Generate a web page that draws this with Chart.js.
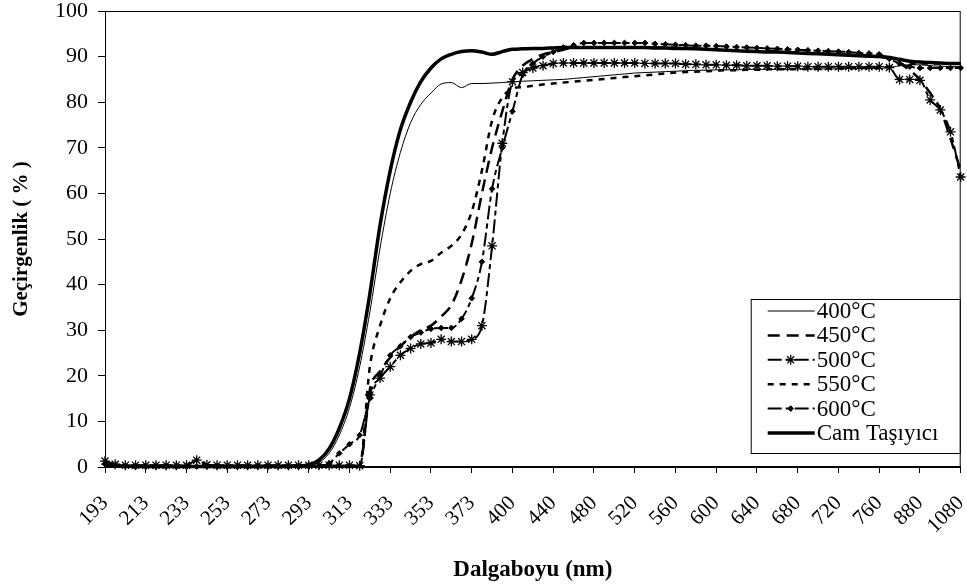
<!DOCTYPE html>
<html>
<head>
<meta charset="utf-8">
<script src="https://cdn.jsdelivr.net/npm/chart.js@4.4.1/dist/chart.umd.min.js"></script>
<style>
  html, body { margin: 0; padding: 0; background: #ffffff; }
</style>
</head>
<body>
<canvas id="chart" width="967" height="586"></canvas>
<script>
// ---- data ----
// wavelength categories (nm); only every 4th one gets a tick label
const wavelengths = [
  193, 198, 203, 208, 213, 218, 223, 228, 233, 238, 243, 248, 253, 258, 263, 268, 273, 278, 283, 288,
  293, 298, 303, 308, 313, 318, 323, 328, 333, 338, 343, 348, 353, 358, 363, 368, 373, 380, 387, 393,
  400, 410, 420, 430, 440, 450, 460, 470, 480, 490, 500, 510, 520, 530, 540, 550, 560, 570, 580, 590,
  600, 610, 620, 630, 640, 650, 660, 670, 680, 690, 700, 710, 720, 730, 740, 750, 760, 790, 820, 850,
  880, 930, 980, 1030, 1080
];

// transmittance (%) per film
const t400 = [
  0.5, 0.3, 0.2, 0.1, 0.1, 0.1, 0.1, 0.1, 0.1, 0.1, 0.1, 0.1, 0.1, 0.1, 0.1, 0.1, 0.1, 0.1, 0.1, 0.1,
  0.3, 1.0, 3.0, 7.0, 13.0, 22.0, 34.0, 48.0, 60.0, 69.0, 75.5, 79.5, 82.0, 84.0, 84.3, 83.2, 84.1, 84.1, 84.2, 84.3,
  84.5, 84.6, 84.7, 84.8, 84.9, 85.0, 85.2, 85.4, 85.6, 85.8, 86.0, 86.2, 86.4, 86.5, 86.6, 86.7, 86.8, 86.9, 87.0, 87.0,
  87.1, 87.1, 87.1, 87.2, 87.2, 87.2, 87.2, 87.2, 87.3, 87.3, 87.3, 87.3, 87.3, 87.4, 87.4, 87.4, 87.4, 87.6, 88.0, 88.2,
  88.2, 88.0, 87.9, 87.8, 87.8
];
const t450 = [
  0.3, 0.2, 0.1, 0.1, 0.1, 0.1, 0.1, 0.1, 0.1, 0.1, 0.1, 0.1, 0.1, 0.1, 0.1, 0.1, 0.1, 0.1, 0.1, 0.1,
  0.1, 0.1, 0.1, 0.1, 0.2, 0.3, 17.0, 21.0, 24.0, 26.5, 28.5, 30.0, 31.0, 33.0, 35.5, 41.0, 49.0, 60.0, 70.0, 78.0,
  85.0, 88.0, 89.5, 90.5, 91.0, 91.5, 92.0, 92.0, 92.0, 92.0, 92.0, 92.0, 92.0, 92.0, 92.0, 92.0, 92.0, 91.8, 91.7, 91.6,
  91.5, 91.4, 91.3, 91.3, 91.2, 91.2, 91.1, 91.0, 90.9, 90.8, 90.7, 90.6, 90.5, 90.4, 90.3, 90.2, 90.0, 89.5, 88.5, 87.0,
  85.0, 82.0, 78.5, 72.0, 65.0
];
const t500 = [
  1.3, 0.6, 0.4, 0.4, 0.4, 0.4, 0.4, 0.4, 0.4, 1.5, 0.5, 0.4, 0.4, 0.4, 0.4, 0.4, 0.4, 0.4, 0.4, 0.4,
  0.4, 0.4, 0.4, 0.4, 0.4, 0.3, 15.8, 19.5, 22.0, 24.5, 26.0, 27.0, 27.2, 28.0, 27.5, 27.5, 28.0, 31.0, 48.5, 71.0,
  84.5, 86.5, 87.5, 88.0, 88.5, 88.6, 88.6, 88.6, 88.6, 88.6, 88.6, 88.6, 88.6, 88.5, 88.5, 88.5, 88.5, 88.3, 88.3, 88.2,
  88.2, 88.1, 88.1, 88.0, 88.0, 88.0, 87.9, 87.9, 87.9, 87.8, 87.8, 87.8, 87.8, 87.8, 87.8, 87.8, 87.8, 87.6, 85.0, 85.0,
  84.8, 80.5, 78.3, 73.5, 63.6
];
const t550 = [
  0.3, 0.2, 0.1, 0.1, 0.1, 0.1, 0.1, 0.1, 0.1, 0.1, 0.1, 0.1, 0.1, 0.1, 0.1, 0.1, 0.1, 0.1, 0.1, 0.1,
  0.1, 0.1, 0.1, 0.1, 0.2, 0.3, 22.0, 31.0, 37.0, 40.5, 43.0, 44.5, 45.2, 47.0, 48.5, 51.0, 56.0, 65.0, 76.0, 81.0,
  83.0, 83.3, 83.6, 83.9, 84.1, 84.3, 84.5, 84.7, 84.9, 85.1, 85.3, 85.5, 85.7, 85.9, 86.1, 86.3, 86.5, 86.6, 86.7, 86.8,
  86.9, 87.0, 87.0, 87.1, 87.1, 87.2, 87.2, 87.2, 87.3, 87.3, 87.3, 87.4, 87.4, 87.4, 87.5, 87.5, 87.5, 87.8, 88.2, 88.4,
  88.5, 88.5, 88.5, 88.5, 88.5
];
const t600 = [
  0.6, 0.3, 0.2, 0.1, 0.1, 0.1, 0.1, 0.1, 0.1, 0.1, 0.1, 0.1, 0.1, 0.1, 0.1, 0.1, 0.1, 0.1, 0.1, 0.1,
  0.1, 0.2, 0.8, 3.0, 5.0, 7.0, 15.0, 20.0, 24.5, 26.5, 28.5, 29.5, 30.3, 30.5, 30.5, 32.5, 37.0, 45.0, 61.0, 70.0,
  78.0, 86.0, 88.5, 90.0, 91.0, 92.0, 92.5, 93.0, 93.0, 93.0, 93.0, 93.0, 93.0, 93.0, 92.8, 92.7, 92.6, 92.5, 92.4, 92.4,
  92.3, 92.2, 92.1, 92.0, 91.9, 91.8, 91.7, 91.6, 91.5, 91.4, 91.3, 91.2, 91.1, 91.0, 90.8, 90.7, 90.5, 89.5, 88.5, 87.8,
  87.5, 87.5, 87.5, 87.5, 87.5
];
const tGlass = [
  0.5, 0.3, 0.2, 0.1, 0.1, 0.1, 0.1, 0.1, 0.1, 0.1, 0.1, 0.1, 0.1, 0.1, 0.1, 0.1, 0.1, 0.1, 0.1, 0.2,
  0.5, 1.5, 4.0, 8.5, 15.0, 25.0, 38.0, 53.0, 65.0, 74.0, 80.0, 84.5, 87.5, 89.5, 90.5, 91.1, 91.3, 91.0, 90.5, 91.1,
  91.6, 91.7, 91.8, 91.8, 91.9, 92.0, 92.0, 92.0, 92.0, 92.0, 92.0, 92.0, 92.0, 92.0, 91.9, 91.9, 91.8, 91.8, 91.7, 91.6,
  91.5, 91.4, 91.3, 91.2, 91.1, 91.0, 91.0, 90.9, 90.8, 90.7, 90.6, 90.5, 90.4, 90.3, 90.2, 90.1, 90.0, 89.8, 89.4, 89.0,
  88.8, 88.7, 88.6, 88.5, 88.5
];

const seriesNames = ['400°C', '450°C', '500°C', '550°C', '600°C', 'Cam Taşıyıcı'];
const yTicks = [0, 10, 20, 30, 40, 50, 60, 70, 80, 90, 100];

const FONT = "'Liberation Serif', 'Times New Roman', serif";

// --- plot frame (top + right border of the plot area) ---
const plotFrame = {
  id: 'plotFrame',
  beforeDatasetsDraw(chart) {
    const {ctx, chartArea: a} = chart;
    ctx.save();
    ctx.strokeStyle = '#000';
    ctx.lineWidth = 1;
    ctx.strokeRect(a.left + 0.5, a.top + 0.5, a.right - a.left - 1, a.bottom - a.top);
    ctx.restore();
  }
};

// --- boxed legend sitting in the lower right of the plot ---
const boxLegend = {
  id: 'boxLegend',
  afterDatasetsDraw(chart) {
    const {ctx, chartArea: a} = chart;
    const w = 209, h = 154;
    const x0 = a.right - w - 1, y0 = a.bottom - h - 14;
    ctx.save();
    ctx.fillStyle = '#fff';
    ctx.fillRect(x0, y0, w, h);
    ctx.strokeStyle = '#000';
    ctx.lineWidth = 1;
    ctx.strokeRect(x0 + 0.5, y0 + 0.5, w, h);

    chart.data.datasets.forEach((ds, i) => {
      const y = y0 + 12 + i * 24.4;
      ctx.save();
      ctx.strokeStyle = '#000';
      ctx.lineWidth = ds.borderWidth;
      ctx.setLineDash(ds.borderDash || []);
      ctx.beginPath();
      ctx.moveTo(x0 + 17, y);
      ctx.lineTo(x0 + 64, y);
      ctx.stroke();
      ctx.restore();
      if (ds.pointRadius > 0 && Chart.helpers && Chart.helpers.drawPoint) {
        ctx.save();
        ctx.strokeStyle = '#000';
        ctx.fillStyle = '#000';
        ctx.lineWidth = ds.pointBorderWidth;
        Chart.helpers.drawPoint(ctx, {pointStyle: ds.pointStyle, radius: ds.pointRadius, rotation: 0,
          borderWidth: ds.pointBorderWidth}, x0 + 40, y);
        ctx.restore();
      }
      ctx.fillStyle = '#000';
      ctx.font = '23px ' + FONT;
      ctx.textBaseline = 'middle';
      ctx.textAlign = 'left';
      ctx.fillText(ds.label, x0 + 66, y + 1);
    });
    ctx.restore();
  }
};

function line(label, data, extra) {
  return Object.assign({
    label: label,
    data: data,
    borderColor: '#000',
    backgroundColor: '#000',
    borderWidth: 2,
    pointRadius: 0,
    pointBorderWidth: 1,
    cubicInterpolationMode: 'monotone',
    fill: false,
    clip: 8
  }, extra);
}

new Chart(document.getElementById('chart'), {
  type: 'line',
  data: {
    labels: wavelengths.map(String),
    datasets: [
      line(seriesNames[0], t400, {borderWidth: 1}),
      line(seriesNames[1], t450, {borderWidth: 2.5, borderDash: [12, 7]}),
      line(seriesNames[2], t500, {borderWidth: 2, borderDash: [14, 4, 5, 4],
        pointStyle: 'star', pointRadius: 5, pointBorderWidth: 1.3}),
      line(seriesNames[3], t550, {borderWidth: 2.5, borderDash: [6, 6]}),
      line(seriesNames[4], t600, {borderWidth: 2, borderDash: [14, 4, 5, 4],
        pointStyle: 'rectRot', pointRadius: 2.8, pointBorderWidth: 1}),
      line(seriesNames[5], tGlass, {borderWidth: 3.5})
    ]
  },
  options: {
    responsive: false,
    animation: false,
    layout: { padding: { left: 0, right: 4, top: 11, bottom: 0 } },
    plugins: {
      legend: { display: false },
      tooltip: { enabled: false }
    },
    scales: {
      x: {
        type: 'category',
        offset: false,
        afterFit(scale) {
          scale.height = 119;
          scale.paddingLeft = 0;
          scale.paddingRight = 0;
        },
        border: { display: true, color: '#000', width: 1.5 },
        grid: { drawOnChartArea: false, drawTicks: true, tickLength: 6, color: '#000' },
        ticks: {
          autoSkip: false,
          minRotation: 45,
          maxRotation: 45,
          padding: 18,
          color: '#000',
          font: { family: FONT, size: 21 },
          callback: function(value, index) {
            return index % 4 === 0 ? this.getLabelForValue(value) : null;
          }
        },
        title: {
          display: true,
          text: 'Dalgaboyu (nm)',
          color: '#000',
          font: { family: FONT, size: 23, weight: 'bold' },
          padding: { top: 0, bottom: 2 }
        }
      },
      y: {
        min: yTicks[0],
        max: yTicks[yTicks.length - 1],
        afterFit(scale) {
          scale.width = 105;
          scale.paddingTop = 0;
          scale.paddingBottom = 0;
        },
        afterBuildTicks(scale) { scale.ticks = yTicks.map(v => ({value: v})); },
        border: { display: true, color: '#000', width: 1 },
        grid: { drawOnChartArea: false, drawTicks: true, tickLength: 7, color: '#000' },
        ticks: {
          padding: 10,
          color: '#000',
          font: { family: FONT, size: 22 }
        },
        title: {
          display: true,
          text: 'Geçirgenlik ( % )',
          color: '#000',
          font: { family: FONT, size: 21, weight: 'bold' },
          padding: { top: 9, bottom: 0 }
        }
      }
    }
  },
  plugins: [plotFrame, boxLegend]
});
</script>
</body>
</html>
